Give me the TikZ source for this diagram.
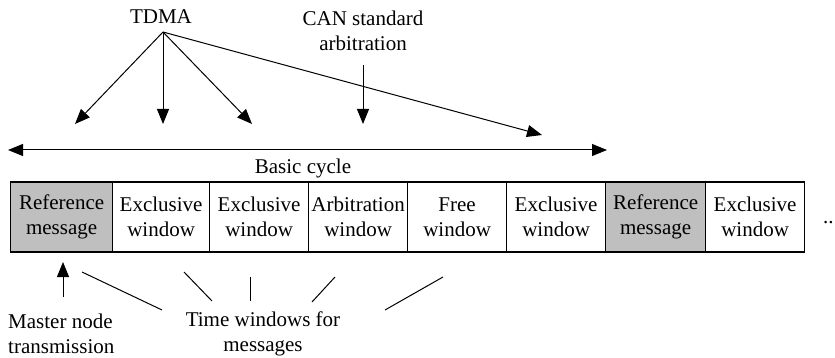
\documentclass[tikz,border=0pt]{standalone}
\usepackage{fontspec}
\setmainfont{Liberation Serif}
\usetikzlibrary{arrows.meta}
\begin{document}
\begin{tikzpicture}[x=1pt,y=-1pt,
  font=\fontsize{21}{25}\selectfont,
  cell/.style={draw, line width=1.2pt, minimum height=70pt, inner sep=0pt, align=center, anchor=west},
  refcell/.style={cell, fill=gray!50},
  lbl/.style={align=center, inner sep=0pt, font=\fontsize{21}{25.5}\selectfont},
  arr/.style={line width=1pt, -{Triangle[length=15pt,width=12pt]}},
  ln/.style={line width=1pt}]
\useasboundingbox (0,0) rectangle (835,358);
% boxes
\node[refcell, minimum width=102pt] (b1) at (10,217) {Reference\\message};
\node[cell, minimum width=97pt] (b2) at (112,217) {Exclusive\\window};
\node[cell, minimum width=99pt] (b3) at (209,217) {Exclusive\\window};
\node[cell, minimum width=99pt] (b4) at (308,217) {Arbitration\\window};
\node[cell, minimum width=99pt] (b5) at (407,217) {Free\\window};
\node[cell, minimum width=99pt] (b6) at (506,217) {Exclusive\\window};
\node[refcell, minimum width=100pt] (b7) at (605,217) {Reference\\message};
\node[cell, minimum width=99pt] (b8) at (705,217) {Exclusive\\window};
\node[lbl, anchor=base west] (dots) at (823,224) {..};
% top labels
\node[lbl] (tdma) at (161,17) {TDMA};
\node[lbl] (can) at (363,31) {CAN standard\\arbitration};
\node[lbl] (cycle) at (303,168) {Basic cycle};
% basic cycle arrow
\coordinate (cl) at (8,150);
\coordinate (cr) at (607,150);
\draw[line width=1pt, {Triangle[length=15pt,width=12pt]}-{Triangle[length=15pt,width=12pt]}] (cl) -- (cr);
% TDMA arrows
\coordinate (ts) at (163,32);
\coordinate (t1) at (75,124);
\coordinate (t2) at (163,124);
\coordinate (t3) at (252,124);
\coordinate (t4) at (542,135);
\draw[arr] (ts) -- (t1);
\draw[arr] (ts) -- (t2);
\draw[arr] (ts) -- (t3);
\draw[arr] (ts) -- (t4);
% CAN arrow
\coordinate (cs) at (363,65);
\coordinate (ce) at (363,124);
\draw[arr] (cs) -- (ce);
% bottom labels
\node[lbl, align=left, anchor=west] (master) at (8,334) {Master node\\transmission};
\node[lbl] (tw) at (263,334) {Time windows for\\messages};
\coordinate (ms) at (63,297);
\coordinate (me) at (63,262);
\draw[arr] (ms) -- (me);
\coordinate (l1a) at (82,272);  \coordinate (l1b) at (162,310);
\coordinate (l2a) at (184,272); \coordinate (l2b) at (212,301);
\coordinate (l3a) at (250,277); \coordinate (l3b) at (250,301);
\coordinate (l4a) at (335,277); \coordinate (l4b) at (312,302);
\coordinate (l5a) at (443,277); \coordinate (l5b) at (385,310);
\draw[ln] (l1a) -- (l1b);
\draw[ln] (l2a) -- (l2b);
\draw[ln] (l3a) -- (l3b);
\draw[ln] (l4a) -- (l4b);
\draw[ln] (l5a) -- (l5b);
\end{tikzpicture}
\end{document}
